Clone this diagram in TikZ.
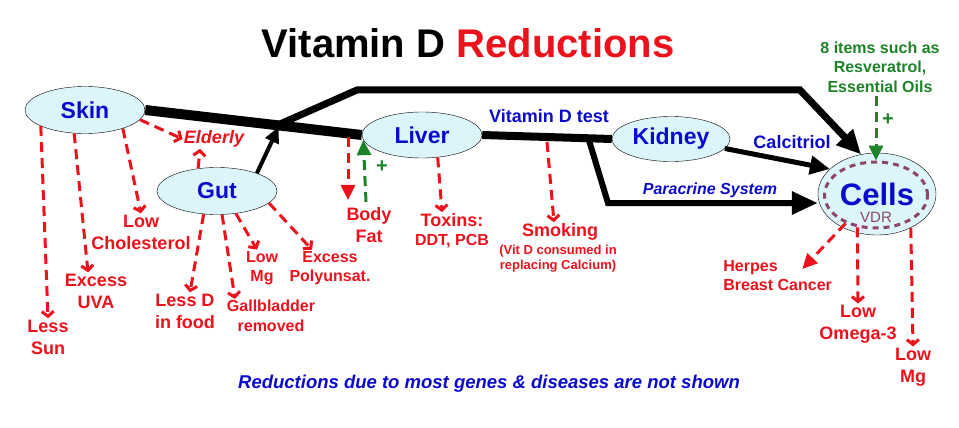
\documentclass[tikz,border=0pt]{standalone}
\usepackage{fontspec}
\setmainfont{Liberation Sans}
\usetikzlibrary{positioning, shapes, arrows.meta}
\definecolor{myred}{RGB}{235, 18, 28}
\definecolor{myblue}{RGB}{10, 10, 205}
\definecolor{mygreen}{RGB}{30, 130, 40}
\definecolor{cellfill}{RGB}{220, 245, 250}
\definecolor{vdrpurple}{RGB}{140, 70, 110}

\begin{document}
\begin{tikzpicture}[x = 1pt, y = -1pt, thick,
  organ/.style = {ellipse, draw, thin, fill = cellfill, text = myblue, font = \bfseries\fontsize{23}{23}\selectfont, minimum width = 120pt, minimum height = 47pt, inner sep = 0pt},
  cause/.style = {text = myred, font = \bfseries\fontsize{18}{22}\selectfont, align = center, inner sep = 1pt},
  small/.style = {font = \bfseries\fontsize{16}{19.5}\selectfont},
  blue label/.style = {text = myblue, font = \bfseries\fontsize{18}{18}\selectfont},
  reduce/.style = {myred, line width = 3pt, dash pattern = on 10pt off 6pt, -{Straight Barb[length = 5pt, width = 12pt]}},
  reduce fill/.style = {myred, line width = 3pt, dash pattern = on 10pt off 6pt, -{Triangle[length = 15pt, width = 14pt]}},
  boost/.style = {mygreen, line width = 3pt, dash pattern = on 10pt off 6pt, -{Triangle[length = 15pt, width = 14pt]}},
  flow/.style = {line width = 6pt, line join = miter}]
  \useasboundingbox (0,0) rectangle (959,428);

  % nodes
  \node [font = \bfseries\fontsize{40}{40}\selectfont] (title) at (468,43) {Vitamin D \textcolor{myred}{Reductions}};
  \node [organ] (skin) at (85,110) {Skin};
  \node [organ] (gut) at (217,191) {Gut};
  \node [organ, minimum height = 46pt] (liver) at (422,135) {Liver};
  \node [organ, minimum width = 118pt, minimum height = 45pt] (kidney) at (671,139) {Kidney};
  \node [organ, minimum width = 118pt, minimum height = 82pt, font = \bfseries\fontsize{31}{31}\selectfont] (cells) at (877,194) {Cells};
  \node [ellipse, draw = vdrpurple, line width = 3pt, dash pattern = on 6pt off 5pt, minimum width = 103pt, minimum height = 66pt] (vdr) at (876,195) {};
  \node [text = vdrpurple, font = \fontsize{15}{15}\selectfont] (vdrText) at (876,217) {VDR};

  \node [cause] (lessSun) at (48,337) {Less\\Sun};
  \node [cause] (excessUVA) at (96,291) {Excess\\UVA};
  \node [cause] (lowChol) at (141,232) {Low\\Cholesterol};
  \node [cause, font = \bfseries\itshape\fontsize{18}{22}\selectfont] (elderly) at (214,139) {Elderly};
  \node [cause] (lessD) at (185,311) {Less D\\in food};
  \node [cause, small] (gallbladder) at (271,316) {Gallbladder\\removed};
  \node [cause, small] (lowMgGut) at (262,268) {Low\\Mg};
  \node [cause, small] (polyunsat) at (330,268) {Excess\\Polyunsat.};
  \node [cause] (bodyFat) at (369,225) {Body\\Fat};
  \node [cause] (toxins) at (452,220) {Toxins:};
  \node [cause, small] (toxinsList) at (452,241) {DDT, PCB};
  \node [cause] (smoking) at (560,232) {Smoking};
  \node [cause, font = \bfseries\fontsize{13}{15}\selectfont] (smokingNote) at (558,259) {(Vit D consumed in\\replacing Calcium)};
  \node [cause, small, align = left, anchor = north west] (herpes) at (722,259) {Herpes\\Breast Cancer};
  \node [cause] (lowOmega) at (858,324) {Low\\Omega-3};
  \node [cause] (lowMgCell) at (913,367) {Low\\Mg};

  \node [text = mygreen, font = \bfseries\fontsize{16}{19.5}\selectfont, align = center] (items) at (880,67) {8 items such as\\Resveratrol,\\Essential Oils};
  \node [text = mygreen, font = \bfseries\fontsize{20}{20}\selectfont] (plusCells) at (888,120) {+};
  \node [text = mygreen, font = \bfseries\fontsize{20}{20}\selectfont] (plusLiver) at (382,167) {+};

  \node [blue label] (testLabel) at (549,116) {Vitamin D test};
  \node [blue label] (calcitriol) at (792,142) {Calcitriol};
  \node [blue label, font = \bfseries\itshape\fontsize{16}{16}\selectfont] (paracrine) at (710,190) {Paracrine System};
  \node [blue label, font = \bfseries\itshape\fontsize{18.5}{18.5}\selectfont] (note) at (489,384) {Reductions due to most genes \& diseases are not shown};

  \coordinate (junction) at (280,124);
  \coordinate (topLeft) at (357,90);
  \coordinate (topRight) at (800,90);
  \coordinate (branch) at (588,137);
  \coordinate (paraBend) at (608,203);
  \coordinate (fatTop) at (348,137);
  \coordinate (smokeTop) at (547,142);
  \coordinate (plusBase) at (366,202);

  % edges
  \draw [line width = 10pt] (skin.east) to (liver.west);
  \draw [flow, line width = 7pt, -{Triangle[length = 24pt, width = 22pt]}] (junction) -- (topLeft) -- (topRight) -- (cells.112);
  \draw [line width = 4pt, shorten >= 3pt, -{Triangle[length = 16pt, width = 14pt]}] (gut.24) to (junction);
  \draw [line width = 8pt] (liver.east) to (kidney.west);
  \draw [flow, -{Triangle[length = 26pt, width = 22pt]}] (branch) -- (paraBend) -- (paraBend -| cells.west);
  \draw [line width = 5pt, -{Triangle[length = 20pt, width = 18pt]}] (kidney.350) to (cells.152);

  \draw [reduce] (skin.200) to (lessSun.north);
  \draw [reduce] (skin.245) to ([xshift = -8pt]excessUVA.north);
  \draw [reduce] (skin.334) to (lowChol.north);
  \draw [reduce] (skin.350) to (elderly.west);
  \draw [reduce] (gut.130) to ([xshift = -14pt]elderly.south);
  \draw [reduce] (gut.240) to ([xshift = 5pt]lessD.north);
  \draw [reduce] (gut.282) to ([xshift = -36pt]gallbladder.north);
  \draw [reduce] (gut.310) to ([xshift = -5pt]lowMgGut.north);
  \draw [reduce] (gut.347) to ([xshift = -18pt]polyunsat.north);
  \draw [reduce fill, shorten >= 6pt] (fatTop) to (fatTop |- bodyFat.north);
  \draw [boost] (plusBase) to (liver.185);
  \draw [reduce] (liver.305) to ([xshift = -10pt]toxins.north);
  \draw [reduce] (smokeTop) to ([xshift = -6pt]smoking.north);
  \draw [boost] (items.south -| vdr.north) to (vdr.north);
  \draw [reduce fill] (vdr.223) to ([xshift = -31pt, yshift = -10pt]herpes.north east);
  \draw [reduce] (vdr.240) to (lowOmega.north);
  \draw [reduce] (cells.315) to (lowMgCell.north);
\end{tikzpicture}
\end{document}
